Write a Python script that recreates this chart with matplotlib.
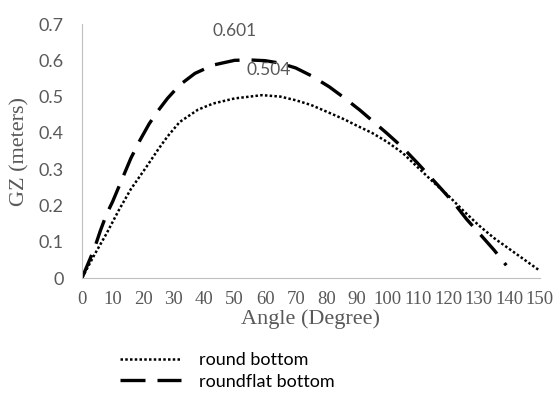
import matplotlib.pyplot as plt

# GZ curves
angle_round = [0, 4, 8, 12, 16, 21, 25, 28, 32, 38, 43, 50, 59, 65, 70, 75, 80, 86, 90, 95,
               100, 105, 110, 115, 120, 125, 130, 135, 140, 145, 150]
gz_round = [0, 0.063, 0.122, 0.186, 0.245, 0.305, 0.355, 0.39, 0.43, 0.464, 0.481, 0.495, 0.504,
            0.5, 0.49, 0.477, 0.459, 0.437, 0.42, 0.40, 0.375, 0.345, 0.305, 0.265, 0.227,
            0.185, 0.145, 0.11, 0.08, 0.05, 0.02]

angle_flat = [0, 2, 4, 6, 8, 10, 13, 16, 19, 22, 25, 28, 32, 37, 43, 50, 55, 60, 65, 70, 75,
              81, 86, 91, 96, 100, 105, 110, 117, 122, 126, 131, 135, 139]
gz_flat = [0, 0.04, 0.08, 0.13, 0.175, 0.21, 0.27, 0.33, 0.38, 0.425, 0.462, 0.495, 0.532,
           0.564, 0.587, 0.600, 0.601, 0.599, 0.592, 0.579, 0.558, 0.527, 0.496, 0.463,
           0.427, 0.398, 0.36, 0.316, 0.252, 0.205, 0.162, 0.115, 0.077, 0.035]

xticks = list(range(0, 151, 10))
yticks = [0, 0.1, 0.2, 0.3, 0.4, 0.5, 0.6, 0.7]
ytick_labels = ["0", "0.1", "0.2", "0.3", "0.4", "0.5", "0.6", "0.7"]

grey = "#595959"

fig = plt.figure(figsize=(5.56, 3.94), dpi=100)
ax = fig.add_axes([0.1475, 0.2944, 0.8235, 0.6446])

ax.plot(angle_round, gz_round, color="black", linestyle=(0, (1, 0.9)), linewidth=1.8,
        label="round bottom")
ax.plot(angle_flat, gz_flat, color="black", linestyle=(0, (7.5, 3.6)), linewidth=2.4,
        label="roundflat bottom")

ax.annotate("0.601", (50, 0.68), ha="center", va="center", fontsize=12.5, color=grey, family="Lato")
ax.annotate("0.504", (61, 0.572), ha="center", va="center", fontsize=12.5, color=grey, family="Lato")

ax.set_xlim(0, 150)
ax.set_ylim(0, 0.7)
ax.set_xticks(xticks)
ax.set_yticks(yticks)
ax.set_yticklabels(ytick_labels, fontsize=13, color=grey, family="Lato")
ax.set_xticklabels([str(t) for t in xticks], fontsize=13.5, color=grey, family="Liberation Serif")
ax.tick_params(axis="x", length=0, pad=9)
ax.tick_params(axis="y", length=0, pad=13)

for s in ["top", "right"]:
    ax.spines[s].set_visible(False)
for s in ["left", "bottom"]:
    ax.spines[s].set_color("#bfbfbf")

ax.set_xlabel("Angle (Degree)", family="Liberation Serif", fontsize=16, color=grey, labelpad=1)
ax.set_ylabel("GZ (meters)", family="Liberation Serif", fontsize=16, color=grey, labelpad=7)

ax.legend(loc="upper left", bbox_to_anchor=(0.083, -0.292), frameon=False,
          prop={"family": "Lato", "size": 13}, handlelength=3.4, handletextpad=1.0,
          labelspacing=0.3, borderpad=0, borderaxespad=0)

fig.savefig("out.png", dpi=100)
